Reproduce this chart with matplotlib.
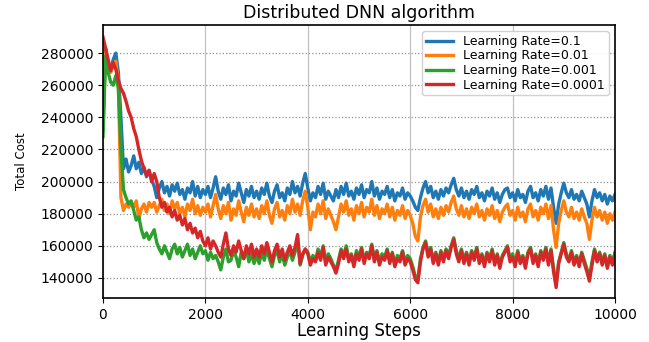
import numpy as np
import matplotlib
matplotlib.use("Agg")
import matplotlib.pyplot as plt

# learning steps (sampled every 50 steps)
steps = np.arange(0, 10001, 50)

# values in thousands
lr_0_1 = [
    232, 283, 272, 270, 276, 280, 268, 240, 208, 214, 206, 210, 216, 208, 212, 205, 209, 203, 207, 201,
    197, 190, 196, 200, 193, 197, 191, 198, 194, 199, 192, 195, 189, 196, 193, 200, 191, 197, 190, 195,
    192, 197, 190, 196, 203, 194, 189, 196, 192, 198, 188, 194, 191, 199, 193, 187, 195, 191, 197, 190,
    194, 189, 196, 192, 199, 191, 187, 194, 198, 190, 193, 188, 196, 192, 200, 193, 197, 191, 199, 205,
    196, 188, 193, 190, 197, 192, 199, 189, 194, 191, 188, 195, 190, 197, 192, 199, 191, 194, 189, 196,
    192, 198, 190, 195, 193, 200, 191, 196, 189, 194, 192, 197, 190, 195, 188, 193, 191, 196, 189, 193,
    191, 188, 184, 182, 190, 196, 200, 193, 197, 190, 194, 189, 195, 191, 196, 193, 198, 202, 195, 191,
    196, 190, 194, 189, 195, 192, 197, 190, 193, 188, 194, 191, 196, 189, 193, 187, 192, 195, 196, 190,
    193, 188, 195, 190, 192, 187, 194, 197, 190, 193, 188, 195, 191, 197, 189, 196, 184, 174, 186, 193,
    199, 193, 190, 195, 189, 192, 188, 194, 190, 186, 178, 188, 195, 190, 193, 188, 192, 186, 191, 188,
    192,
]

lr_0_01 = [
    240, 280, 270, 268, 272, 275, 262, 190, 182, 186, 184, 187, 184, 188, 177, 183, 186, 181, 187, 184,
    187, 181, 185, 189, 182, 186, 180, 188, 183, 187, 180, 184, 178, 186, 182, 189, 180, 185, 179, 184,
    181, 186, 178, 185, 192, 183, 177, 185, 180, 187, 176, 183, 179, 188, 181, 175, 184, 179, 186, 178,
    183, 177, 185, 180, 188, 179, 174, 183, 187, 178, 182, 176, 185, 180, 189, 181, 186, 179, 188, 194,
    184, 170, 181, 178, 186, 180, 188, 177, 183, 179, 175, 170, 178, 186, 181, 188, 179, 183, 176, 185,
    180, 187, 178, 184, 181, 189, 179, 185, 177, 183, 180, 186, 178, 184, 176, 182, 179, 185, 177, 182,
    179, 174, 166, 163, 178, 185, 189, 181, 186, 178, 183, 177, 184, 179, 185, 181, 187, 191, 183, 179,
    185, 178, 183, 177, 184, 180, 186, 178, 182, 176, 183, 179, 185, 177, 182, 175, 181, 184, 186, 179,
    182, 176, 184, 178, 181, 175, 183, 186, 178, 182, 176, 184, 180, 186, 177, 185, 170, 159, 174, 182,
    188, 181, 178, 184, 177, 181, 176, 183, 178, 174, 164, 176, 184, 178, 182, 176, 181, 174, 180, 176,
    181,
]

lr_0_001 = [
    228, 278, 268, 262, 260, 266, 258, 220, 195, 190, 186, 188, 182, 176, 178, 170, 165, 168, 164, 167,
    170, 162, 158, 155, 160, 156, 152, 158, 161, 155, 159, 153, 157, 161, 154, 158, 152, 156, 160, 155,
    157, 151, 156, 152, 154, 150, 145, 153, 158, 150, 151, 157, 153, 147, 156, 152, 158, 150, 155, 149,
    154, 149, 156, 151, 158, 152, 147, 154, 157, 150, 155, 148, 153, 157, 151, 156, 164, 148, 154, 158,
    156, 150, 154, 151, 158, 153, 160, 150, 155, 152, 148, 145, 151, 158, 154, 160, 152, 155, 149, 157,
    153, 159, 151, 156, 154, 161, 152, 157, 150, 155, 153, 158, 151, 156, 149, 154, 152, 157, 150, 154,
    152, 147, 141, 139, 152, 159, 163, 155, 159, 151, 156, 150, 157, 152, 158, 154, 160, 165, 157, 152,
    158, 151, 156, 150, 157, 153, 159, 151, 155, 149, 156, 152, 158, 150, 155, 148, 154, 157, 160, 152,
    155, 149, 157, 151, 154, 148, 156, 159, 151, 155, 149, 157, 153, 159, 150, 158, 146, 136, 150, 156,
    162, 155, 151, 157, 150, 154, 149, 156, 151, 146, 140, 150, 158, 152, 156, 150, 155, 148, 154, 150,
    156,
]

lr_0_0001 = [
    290, 283, 276, 269, 274, 270, 263, 258, 255, 250, 244, 240, 233, 228, 220, 213, 208, 204, 207, 200,
    205, 200, 190, 184, 187, 181, 184, 178, 182, 176, 179, 173, 177, 170, 174, 168, 171, 165, 169, 163,
    160, 165, 158, 163, 160, 156, 153, 161, 168, 158, 154, 160, 156, 163, 157, 152, 160, 155, 161, 153,
    158, 153, 160, 155, 162, 156, 150, 157, 161, 153, 158, 151, 156, 160, 154, 159, 167, 149, 155, 158,
    155, 148, 152, 150, 156, 151, 159, 148, 153, 150, 147, 143, 149, 157, 152, 158, 150, 154, 147, 155,
    151, 158, 149, 155, 152, 160, 150, 156, 148, 153, 151, 157, 149, 155, 147, 152, 150, 156, 148, 152,
    150, 145, 139, 137, 150, 158, 162, 153, 158, 149, 155, 148, 156, 150, 157, 152, 159, 164, 155, 150,
    157, 149, 155, 148, 156, 151, 158, 149, 154, 147, 155, 150, 157, 148, 154, 146, 153, 156, 159, 150,
    153, 147, 156, 149, 153, 146, 155, 158, 149, 154, 147, 156, 151, 158, 148, 157, 144, 134, 149, 155,
    161, 153, 150, 156, 148, 153, 147, 155, 149, 144, 138, 148, 157, 150, 155, 148, 154, 146, 153, 148,
    155,
]

labels = ["Learning Rate=0.1", "Learning Rate=0.01",
          "Learning Rate=0.001", "Learning Rate=0.0001"]
series = [lr_0_1, lr_0_01, lr_0_001, lr_0_0001]
colors = ["#1f77b4", "#ff7f0e", "#2ca02c", "#d62728"]

fig = plt.figure(figsize=(6.49, 3.42), dpi=100)
ax = fig.add_axes([103/649, 1 - 298/342, (615 - 103)/649, (298 - 25)/342])

for vals, lab, col in zip(series, labels, colors):
    ax.plot(steps, np.array(vals) * 1000, color=col, lw=2.4, label=lab)

ax.set_xlim(0, 10000)
ax.set_ylim(127500, 297500)
ax.set_xticks(np.arange(0, 10001, 2000))
ax.set_yticks(np.arange(140000, 280001, 20000))
ax.tick_params(labelsize=10)

ax.xaxis.grid(True, linestyle='-', color='#c0c0c0', lw=0.9)
ax.yaxis.grid(True, linestyle=':', color='#909090', lw=0.9)
ax.set_axisbelow(True)
for s in ax.spines.values():
    s.set_linewidth(1.2)

ax.set_title("Distributed DNN algorithm", fontsize=12.5, pad=5)
ax.set_xlabel("Learning Steps", fontsize=12, labelpad=0)
ax.set_ylabel("Total Cost", fontsize=8.5, labelpad=9)

ax.legend(loc="upper right", fontsize=9, labelspacing=0.12, borderpad=0.3,
          handlelength=2.2, framealpha=0.9)

fig.savefig("out.png", dpi=100)
